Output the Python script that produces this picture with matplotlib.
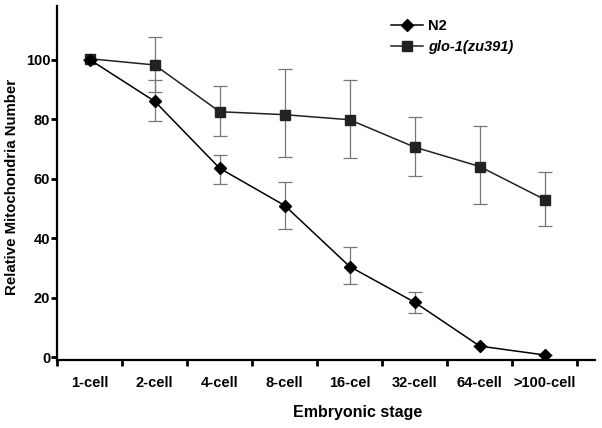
import numpy as np
import matplotlib
matplotlib.use('Agg')
import matplotlib.pyplot as plt

plt.rcParams['font.family'] = ['Liberation Sans', 'DejaVu Sans']
plt.rcParams['font.weight'] = 'bold'

stages = ['1-cell', '2-cell', '4-cell', '8-cell', '16-cel', '32-cell', '64-cell', '>100-cell']

# N2 means and error bar ends
n2_mean = [100, 86, 63.5, 51, 30.5, 18.5, 3.8, 0.8]
n2_upper = [100, 93, 67.8, 59, 37.2, 22, 3.8, 0.8]
n2_lower = [100, 79.5, 58.2, 43, 24.5, 14.8, 3.8, 0.8]

# glo-1(zu391) means and error bar ends
glo_mean = [100.3, 98.2, 82.5, 81.5, 79.8, 70.6, 64.1, 53]
glo_upper = [100.3, 107.7, 91.3, 96.8, 93.3, 80.8, 77.8, 62.4]
glo_lower = [100.3, 89, 74.5, 67.2, 66.8, 61, 51.4, 44.2]

x = np.arange(len(stages))

fig = plt.figure(figsize=(6.02, 4.28), dpi=100)
ax = fig.add_axes([0.095, 0.158, 0.893, 0.828])

def yerr(mean, lo, hi):
    mean = np.array(mean); lo = np.array(lo); hi = np.array(hi)
    return [mean - lo, hi - mean]

ax.errorbar(x, glo_mean, yerr=yerr(glo_mean, glo_lower, glo_upper), fmt='none',
            ecolor='#777777', elinewidth=0.9, capsize=5, capthick=0.9, zorder=1)
ax.errorbar(x, n2_mean, yerr=yerr(n2_mean, n2_lower, n2_upper), fmt='none',
            ecolor='#777777', elinewidth=0.9, capsize=5, capthick=0.9, zorder=1)
ax.plot(x, n2_mean, color='black', lw=1.1, marker='D', ms=6.5, mfc='black', mec='black',
        label='N2', zorder=3)
ax.plot(x, glo_mean, color='#222222', lw=1.1, marker='s', ms=7, mfc='#222222', mec='#222222',
        label='glo-1(zu391)', zorder=2)

ax.set_xlim(-0.5, 7.77)
ax.set_ylim(-1, 118)
ax.set_xticks(np.arange(-0.5, 8, 1.0))
ax.set_xticklabels([])
ax.set_xticks(x, minor=True)
ax.set_xticklabels(stages, minor=True)
ax.tick_params(axis='x', which='minor', length=0, pad=11, labelsize=10.5)
ax.tick_params(axis='x', which='major', length=4, width=2, direction='out')
ax.set_yticks([0, 20, 40, 60, 80, 100])
ax.tick_params(axis='y', length=4, width=2, direction='out', labelsize=10.5, pad=1)

for s in ['top', 'right']:
    ax.spines[s].set_visible(False)
for s in ['left', 'bottom']:
    ax.spines[s].set_linewidth(1.6)

ax.set_ylabel('Relative Mitochondria Number', fontsize=10.8, fontweight='bold')
ax.yaxis.set_label_coords(-0.071, 0.489)
ax.set_xlabel('Embryonic stage', fontsize=11.5, fontweight='bold')
ax.xaxis.set_label_coords(0.558, -0.125)

leg = ax.legend(loc='upper left', bbox_to_anchor=(0.597, 1.0), frameon=False, fontsize=10.5,
                handlelength=2.2, handletextpad=0.3, labelspacing=0.5)
leg.get_texts()[1].set_fontstyle('italic')

fig.savefig('out.png', dpi=100)
